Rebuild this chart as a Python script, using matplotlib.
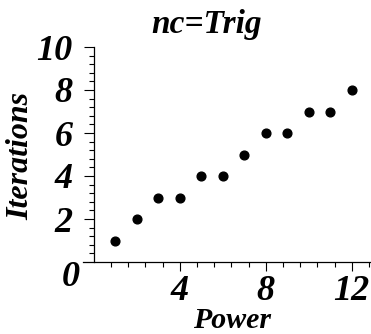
import matplotlib
matplotlib.use("Agg")
import matplotlib.pyplot as plt
from matplotlib.ticker import FixedLocator
import numpy as np

power = [1, 2, 3, 4, 5, 6, 7, 8, 9, 10, 11, 12]
iterations = [1, 2, 3, 3, 4, 4, 5, 6, 6, 7, 7, 8]
x_ticks = [4, 8, 12]
y_ticks = [2, 4, 6, 8, 10]
title = "nc=Trig"
xlabel = "Power"
ylabel = "Iterations"

W, H = 371, 334
fig = plt.figure(figsize=(W / 100, H / 100), dpi=100)
ax = fig.add_axes([83 / W, (H - 262) / H, (370 - 83) / W, 215 / H])

font = dict(family="Liberation Serif", weight="bold", style="italic")

ax.plot(power, iterations, linestyle="none", marker="o", markersize=6.3,
        color="black", clip_on=False)

ax.set_xlim(-0.5, 12.85)
ax.set_ylim(0, 10)

for s in ("top", "right"):
    ax.spines[s].set_visible(False)
ax.spines["left"].set_position(("data", 0))
ax.spines["left"].set_bounds(0, 10)
for s in ("left", "bottom"):
    ax.spines[s].set_linewidth(0.9)

ax.xaxis.set_major_locator(FixedLocator(x_ticks))
ax.xaxis.set_minor_locator(FixedLocator(np.arange(0.8, 12.9, 0.8)))
ax.yaxis.set_major_locator(FixedLocator(y_ticks))
ax.yaxis.set_minor_locator(FixedLocator(np.arange(0.4, 10.01, 0.4)))

ax.set_xticklabels([str(v) for v in x_ticks], **font, fontsize=26)
ax.set_yticklabels([str(v) for v in y_ticks], **font, fontsize=26)

ax.tick_params(axis="x", which="major", direction="out", length=6.5, width=0.8, pad=3)
ax.tick_params(axis="x", which="minor", direction="out", length=3.6, width=0.8)
ax.tick_params(axis="y", which="major", direction="out", length=7.2, width=0.8, pad=8)
ax.tick_params(axis="y", which="minor", direction="out", length=3.6, width=0.8)

# origin label
ax.text(-0.65, -0.7, "0", ha="right", va="center", fontsize=26, clip_on=False, **font)

fig.text(207 / W, 1 - 33 / H, title, ha="center", va="baseline", fontsize=24, **font)
fig.text(232 / W, 6 / H, xlabel, ha="center", va="baseline", fontsize=21.5, **font)
fig.text(21 / W, 1 - 156 / H, ylabel, ha="center", va="center", rotation=90, fontsize=23, **font)

fig.savefig("out.png", dpi=100)
